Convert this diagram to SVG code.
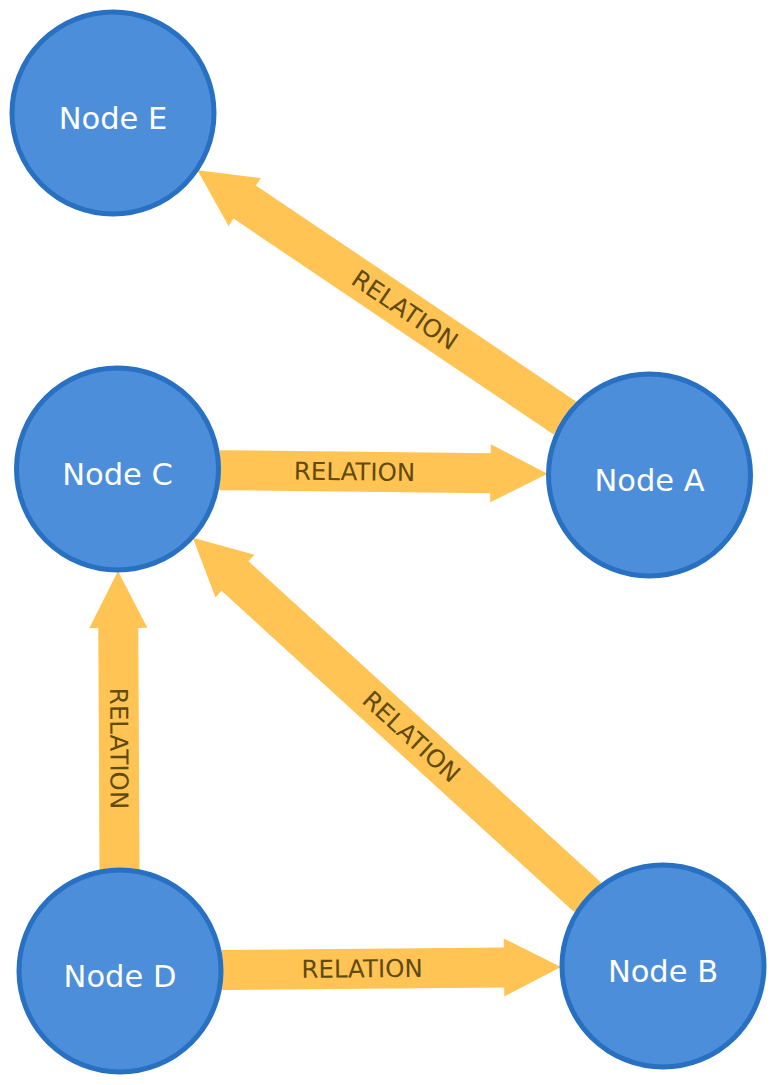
<svg xmlns="http://www.w3.org/2000/svg" width="776" height="1085" viewBox="0 0 776 1085">
<style>
.rel{fill:#FFC454;stroke:none}
.rl{font-family:"DejaVu Sans","Liberation Sans",sans-serif;font-size:24.5px;fill:#604A0E;text-anchor:middle}
.node circle{fill:#4C8EDA;stroke:#2870C2;stroke-width:5}
.node text{font-family:"DejaVu Sans","Liberation Sans",sans-serif;font-size:30.5px;fill:#FFFFFF;text-anchor:middle}
</style>
<rect width="776" height="1085" fill="#FFFFFF"/>
<g id="connectors">
  <g id="edge-A-E">
    <path class="rel" transform="translate(564.9,418.0) rotate(214.0)" d="M0,-20 L386.2,-20 L386.2,-29 L443.2,0 L386.2,29 L386.2,20 L0,20 Z"/>
    <text class="rl" transform="translate(404.8,310.0) rotate(34.0)" y="8.5">RELATION</text>
  </g>
  <g id="edge-C-A">
    <path class="rel" transform="translate(219.5,470.15) rotate(0.646)" d="M0,-20 L271,-20 L271,-29 L328,0 L271,29 L271,20 L0,20 Z"/>
    <text class="rl" transform="translate(354.5,471.7) rotate(0.646)" y="8.5">RELATION</text>
  </g>
  <g id="edge-B-C">
    <path class="rel" transform="translate(587.6,897.3) rotate(222.33)" d="M0,-20 L477,-20 L477,-29 L534,0 L477,29 L477,20 L0,20 Z"/>
    <text class="rl" transform="translate(411.3,736.7) rotate(42.33)" y="8.5">RELATION</text>
  </g>
  <g id="edge-D-C">
    <path class="rel" transform="translate(119.5,869) rotate(269.71)" d="M0,-20 L241,-20 L241,-29 L298,0 L241,29 L241,20 L0,20 Z"/>
    <text class="rl" transform="translate(118.9,748.5) rotate(89.71)" y="8.5">RELATION</text>
  </g>
  <g id="edge-D-B">
    <path class="rel" transform="translate(222,970.06) rotate(-0.528)" d="M0,-20 L282,-20 L282,-29 L339,0 L282,29 L282,20 L0,20 Z"/>
    <text class="rl" transform="translate(362,968.8) rotate(-0.528)" y="8.5">RELATION</text>
  </g>
</g>
<g id="node-E" class="node"><circle cx="113" cy="113" r="101"/><text x="113" y="129">Node E</text></g>
<g id="node-C" class="node"><circle cx="117.5" cy="469" r="101"/><text x="117.5" y="485">Node C</text></g>
<g id="node-A" class="node"><circle cx="649.5" cy="475" r="101"/><text x="649.5" y="491">Node A</text></g>
<g id="node-D" class="node"><circle cx="120" cy="971" r="101"/><text x="120" y="987">Node D</text></g>
<g id="node-B" class="node"><circle cx="663" cy="966" r="101"/><text x="663" y="982">Node B</text></g>
</svg>
